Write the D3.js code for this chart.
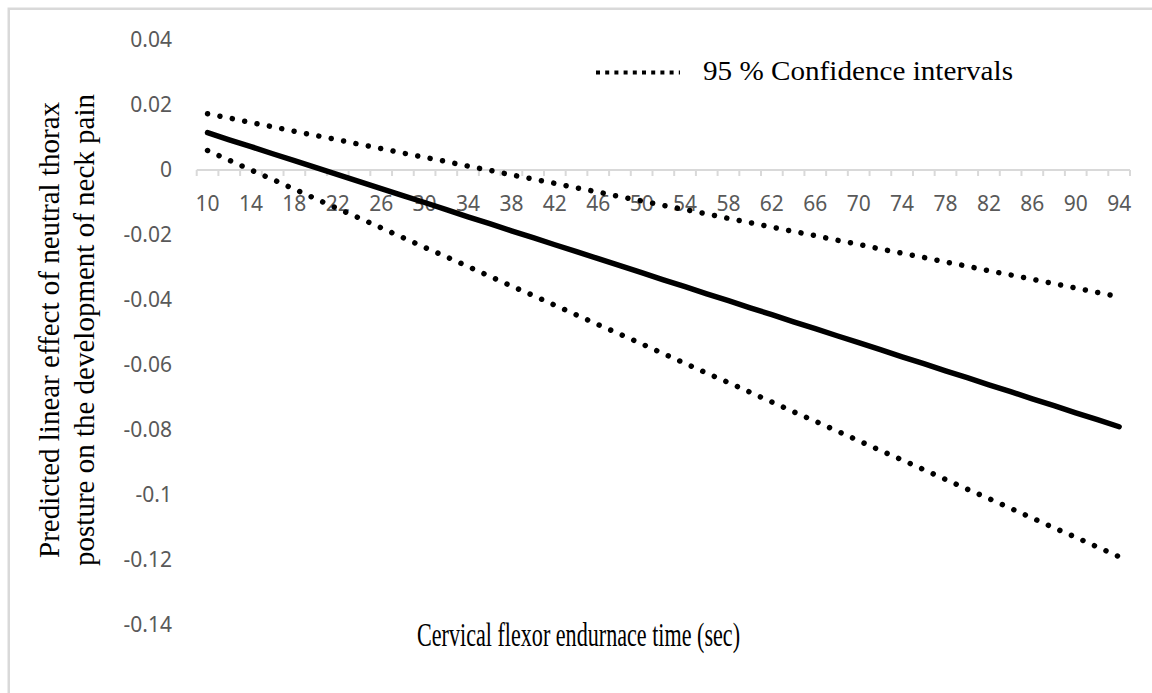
<!DOCTYPE html>
<html lang="en">
<head>
    <meta charset="UTF-8">
    <title>Cervical flexor endurance</title>
    <style>
        body { margin: 0; background: #fff; }
    </style>
</head>
<body>
    <script src="https://d3js.org/d3.v7.min.js"></script>
    <script>
        // categories: endurance time in seconds
        var categories = [10,12,14,16,18,20,22,24,26,28,30,32,34,36,38,40,42,44,46,48,50,52,54,56,58,60,62,64,66,68,70,72,74,76,78,80,82,84,86,88,90,92,94];

        var predicted = [0.0115,0.0093,0.0072,0.0050,0.0029,0.0007,-0.0014,-0.0036,-0.0057,-0.0079,
            -0.0100,-0.0122,-0.0144,-0.0165,-0.0187,-0.0208,-0.0230,-0.0251,-0.0273,-0.0294,
            -0.0316,-0.0338,-0.0359,-0.0381,-0.0402,-0.0424,-0.0445,-0.0467,-0.0488,-0.0510,
            -0.0531,-0.0553,-0.0575,-0.0596,-0.0618,-0.0639,-0.0661,-0.0682,-0.0704,-0.0725,
            -0.0747,-0.0768,-0.0790];

        var upperCI = [0.0173,0.0160,0.0146,0.0133,0.0119,0.0106,0.0093,0.0079,0.0066,0.0052,
            0.0039,0.0026,0.0012,-0.0001,-0.0015,-0.0028,-0.0041,-0.0055,-0.0068,-0.0082,
            -0.0095,-0.0109,-0.0122,-0.0135,-0.0149,-0.0162,-0.0176,-0.0189,-0.0202,-0.0216,
            -0.0229,-0.0243,-0.0256,-0.0269,-0.0283,-0.0296,-0.0310,-0.0323,-0.0336,-0.0350,
            -0.0363,-0.0377,-0.0390];

        var lowerCI = [0.0060,0.0030,0.0000,-0.0029,-0.0059,-0.0089,-0.0119,-0.0148,-0.0178,-0.0208,
            -0.0238,-0.0267,-0.0297,-0.0327,-0.0357,-0.0386,-0.0416,-0.0446,-0.0476,-0.0505,
            -0.0535,-0.0565,-0.0595,-0.0625,-0.0654,-0.0684,-0.0714,-0.0744,-0.0773,-0.0803,
            -0.0833,-0.0863,-0.0892,-0.0922,-0.0952,-0.0982,-0.1011,-0.1041,-0.1071,-0.1101,
            -0.1130,-0.1160,-0.1190];

        var yTicks = [0.04,0.02,0,-0.02,-0.04,-0.06,-0.08,-0.1,-0.12,-0.14];
        // only every second category gets a label
        var xLabels = categories.filter(function(d, i){ return i % 2 === 0; });

        const width = 1152,
              height = 693;

        var svg = d3.select('body')
                    .append('svg')
                    .attr('width', width)
                    .attr('height', height);

        // frame of the chart area
        svg.append('rect')
            .attr('x', 8.75)
            .attr('y', 8.75)
            .attr('width', 1300)
            .attr('height', 900)
            .attr('fill', 'none')
            .attr('stroke', '#d9d9d9')
            .attr('stroke-width', 2.5);

        var x = d3.scaleBand()
            .domain(categories)
            .range([196.7, 1130])
            .padding(0);

        var y = d3.scaleLinear()
            .domain([-0.14, 0.04])
            .range([625, 40]);

        var cx = function(d){ return x(d) + x.bandwidth() / 2; };

        // y tick labels (no axis line), plain hyphen as minus sign
        svg.selectAll('.ylab')
            .data(yTicks)
            .enter()
            .append('text')
            .attr('class', 'ylab')
            .attr('x', 172)
            .attr('y', function(d){ return y(d); })
            .attr('dy', '0.35em')
            .attr('text-anchor', 'end')
            .style('font-family', '"Noto Sans", sans-serif')
            .style('font-size', '21px')
            .style('fill', '#595959')
            .text(function(d){ return String(d); });

        // horizontal axis at y = 0 with ticks on the category borders
        var xAxis = svg.append('g').attr('transform', 'translate(0,' + y(0) + ')');

        xAxis.append('line')
            .attr('x1', x.range()[0])
            .attr('x2', x.range()[1])
            .style('stroke', '#d9d9d9')
            .style('stroke-width', 2);

        var borders = categories.map(function(d){ return x(d); }).concat([x.range()[1]]);
        xAxis.selectAll('.tick')
            .data(borders)
            .enter()
            .append('line')
            .attr('class', 'tick')
            .attr('x1', function(d){ return d; })
            .attr('x2', function(d){ return d; })
            .attr('y1', 0)
            .attr('y2', 6)
            .style('stroke', '#d9d9d9')
            .style('stroke-width', 2);

        xAxis.selectAll('.xlab')
            .data(xLabels)
            .enter()
            .append('text')
            .attr('class', 'xlab')
            .attr('x', cx)
            .attr('y', 41)
            .attr('text-anchor', 'middle')
            .style('font-family', '"Noto Sans", sans-serif')
            .style('font-size', '21px')
            .style('fill', '#595959')
            .text(function(d){ return d; });

        // lines
        var line = d3.line()
            .x(function(d){ return cx(d.c); })
            .y(function(d){ return y(d.v); });

        function pairs(values){
            return categories.map(function(c, i){ return {c: c, v: values[i]}; });
        }

        [upperCI, lowerCI].forEach(function(values){
            svg.append('path')
                .datum(pairs(values))
                .attr('d', line)
                .attr('fill', 'none')
                .style('stroke', '#000')
                .style('stroke-width', 5.5)
                .style('stroke-linecap', 'round')
                .style('stroke-dasharray', '0.01 12.6');
        });

        svg.append('path')
            .datum(pairs(predicted))
            .attr('d', line)
            .attr('fill', 'none')
            .style('stroke', '#000')
            .style('stroke-width', 5.5)
            .style('stroke-linecap', 'round')
            .style('stroke-linejoin', 'round');

        // legend
        svg.append('line')
            .attr('x1', 596)
            .attr('x2', 680)
            .attr('y1', 72.5)
            .attr('y2', 72.5)
            .style('stroke', '#000')
            .style('stroke-width', 4)
            .style('stroke-dasharray', '4 5.2');

        svg.append('text')
            .attr('x', 703)
            .attr('y', 80)
            .attr('textLength', 310)
            .attr('lengthAdjust', 'spacingAndGlyphs')
            .style('font-family', '"Liberation Serif", "Times New Roman", serif')
            .style('font-size', '27px')
            .style('fill', '#000')
            .text('95 % Confidence intervals');

        // axis titles
        svg.append('text')
            .attr('x', 417)
            .attr('y', 646)
            .attr('textLength', 323)
            .attr('lengthAdjust', 'spacingAndGlyphs')
            .style('font-family', '"Liberation Serif", "Times New Roman", serif')
            .style('font-size', '33px')
            .style('fill', '#000')
            .text('Cervical  flexor endurnace time (sec)');

        var yTitle = svg.append('text')
            .attr('transform', 'translate(0,330) rotate(-90)')
            .attr('text-anchor', 'middle')
            .style('font-family', '"Liberation Serif", "Times New Roman", serif')
            .style('font-size', '29px')
            .style('fill', '#000');

        yTitle.append('tspan')
            .attr('x', 0)
            .attr('y', 59)
            .text('Predicted linear effect of neutral thorax');

        yTitle.append('tspan')
            .attr('x', 0)
            .attr('y', 94)
            .text('posture on the development of neck pain');
    </script>
</body>
</html>
